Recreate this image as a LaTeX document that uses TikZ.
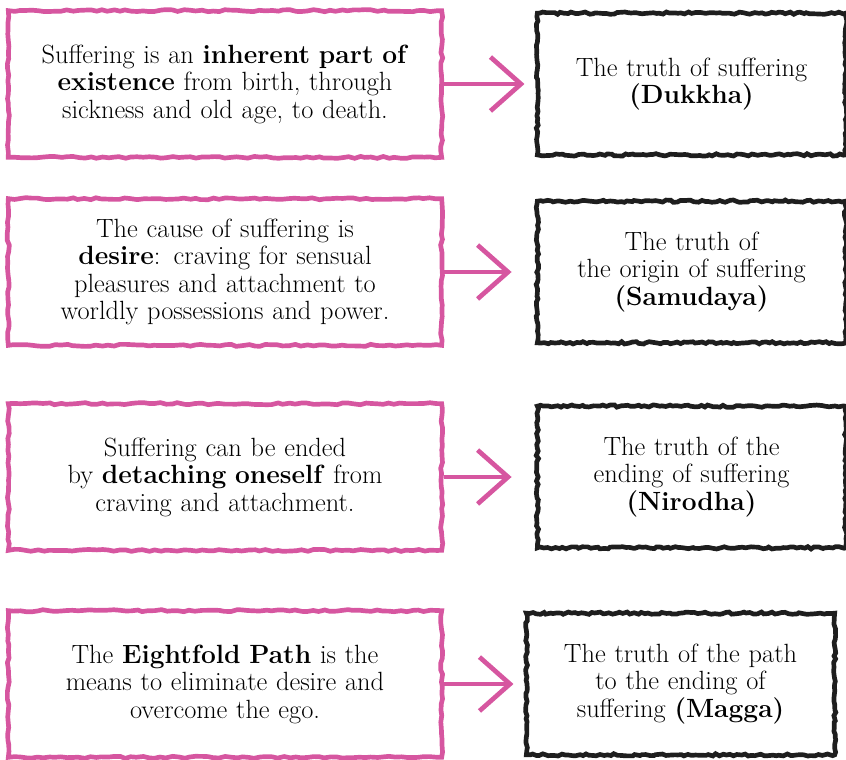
\documentclass[tikz,border=0pt]{standalone}
\usetikzlibrary{positioning,arrows.meta,decorations.pathmorphing}
\definecolor{marker}{RGB}{214,86,160}
\definecolor{charcoal}{RGB}{30,30,30}

\begin{document}
\begin{tikzpicture}[>={Straight Barb[length=26pt,width=46pt]},line width=4pt,align=center,
  font=\fontsize{22.5}{23.5}\selectfont,node distance=2.73cm,
  pinkbox/.style={draw=marker,decorate,decoration={random steps,segment length=5pt,amplitude=0.9pt},
    minimum width=13cm,minimum height=4.4cm,text width=12.6cm},
  truthbox/.style={draw=charcoal,decorate,decoration={random steps,segment length=3pt,amplitude=1pt},
    minimum width=9.25cm,minimum height=4.25cm,text width=9cm}]
\pgfmathsetseed{11}
\useasboundingbox (0,0) rectangle (25.38,-22.77);

%% Dukkha
\node (Existence) [pinkbox] at (6.75,-2.52)
      {Suffering is an \textbf{inherent part of}\\
       \textbf{existence} from birth, through\\
       sickness and old age, to death.};
\node (Dukkha) [truthbox,right=of Existence]
      {The truth of suffering\\
       \textbf{(Dukkha)}};
\draw[->,marker,shorten >=9pt] (Existence) -- (Dukkha);

%% Samudaya
\node (Desire) [pinkbox] at (6.75,-8.16)
      {The cause of suffering is\\
       \textbf{desire}: craving for sensual\\
       pleasures and attachment to\\
       worldly possessions and power.};
\node (Samudaya) [truthbox,right=of Desire]
      {The truth of\\
       the origin of suffering\\
       \textbf{(Samudaya)}};
\draw[->,marker,shorten >=20pt] (Desire) -- (Samudaya);

%% Nirodha
\node (Detach) [pinkbox] at (6.75,-14.31)
      {Suffering can be ended\\
       by \textbf{detaching oneself} from\\
       craving and attachment.};
\node (Nirodha) [truthbox,right=of Detach]
      {The truth of the\\
       ending of suffering\\
       \textbf{(Nirodha)}};
\draw[->,marker,shorten >=20pt] (Detach) -- (Nirodha);

%% Magga
\node (Path) [pinkbox] at (6.75,-20.52)
      {The \textbf{Eightfold Path} is the\\
       means to eliminate desire and\\
       overcome the ego.};
\node (Magga) [truthbox,right=2.4cm of Path]
      {The truth of the path\\
       to the ending of\\
       suffering \textbf{(Magga)}};
\draw[->,marker,shorten >=9pt] (Path) -- (Magga);
\end{tikzpicture}
\end{document}
